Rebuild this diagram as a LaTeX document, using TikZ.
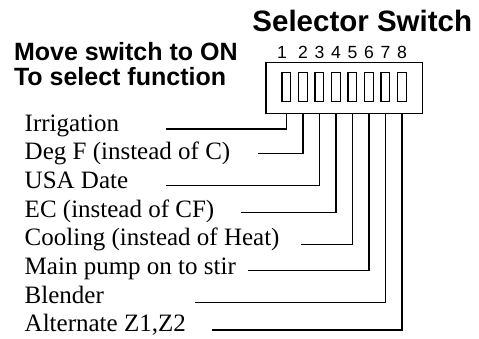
\documentclass[tikz,border=0pt]{standalone}
\usepackage{fontspec}
\setmainfont{Liberation Serif}
\setsansfont{Liberation Sans}
\usepackage{tikz}
\usetikzlibrary{positioning}

\begin{document}
\begin{tikzpicture}[x=0.5pt,y=-0.5pt,line width=0.75pt,
		fnlabel/.style={anchor=base west,inner sep=0pt,font=\fontsize{12.5}{15}\selectfont},
		heading/.style={anchor=base west,inner sep=0pt,font=\sffamily\bfseries\fontsize{12.5}{15}\selectfont},
		digit/.style={anchor=base,inner sep=0pt,font=\sffamily\fontsize{8.8}{10}\selectfont},
		toggle/.style={draw,line width=0.6pt,minimum width=4.4pt,minimum height=14.4pt,inner sep=0pt}]
	\useasboundingbox (0,0) rectangle (479,339);
	% titles
	\node[heading,font=\sffamily\bfseries\fontsize{14.75}{17}\selectfont] (title) at (251.7,31.7) {Selector Switch};
	\node[heading] (move) at (13.3,60) {Move switch to ON};
	\node[heading,below=12.5pt of move.base west,anchor=base west] (select) {To select function};
	% switch housing
	\node[draw,minimum width=78.35pt,minimum height=25.3pt,inner sep=0pt] (box) at (344.35,88) {};
	\foreach \i in {1,...,8} {
		\node[toggle] (sw\i) at ({286.5+16.5*(\i-1)},87.15) {};
	}
	% switch numbers
	\node[digit] (num1) at (282,58) {1};
	\foreach \i in {2,...,8} {
		\node[digit] (num\i) at (sw\i.center |- 0,58) {\i};
	}
	% functions
	\foreach \txt [count=\i] in {Irrigation, Deg F (instead of C), USA Date, EC (instead of CF), Cooling (instead of Heat), Main pump on to stir, Blender, {Alternate Z1,Z2}} {
		\node[fnlabel] (fn\i) at (24,{131+28.7*(\i-1)}) {\txt};
	}
	% wires
	\foreach \i/\wy/\xs in {1/129/165.7, 2/153.3/258.3, 3/185.7/165.7, 4/212.7/240.7, 5/244.3/301, 6/270.3/248.3, 7/302.7/195, 8/330/212.3} {
		\coordinate (end\i) at (\xs,\wy);
		\draw (box.south -| sw\i) |- (end\i);
	}
\end{tikzpicture}
\end{document}
